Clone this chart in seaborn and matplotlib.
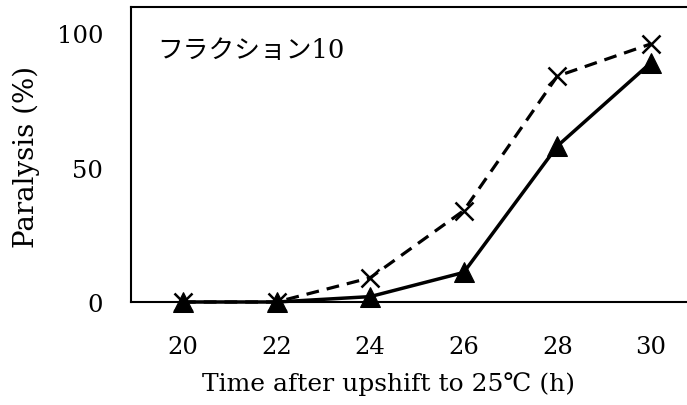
import matplotlib
matplotlib.use("Agg")
import matplotlib.pyplot as plt
import seaborn as sns
import pandas as pd

# Time after temperature upshift (h) and paralysis rate (%)
hours = [20, 22, 24, 26, 28, 30]
paralysis_triangle = [0, 0, 2, 11, 58, 89]
paralysis_cross = [0, 0, 9, 34, 84, 96]

y_ticks = [0, 50, 100]
panel_label = "フラクション10"
x_label = "Time after upshift to 25\u2103 (h)"
y_label = "Paralysis (%)"

sns.set_theme(style="white")
serif_fonts = ["DejaVu Serif", "Noto Sans CJK JP", "DejaVu Sans"]
plt.rcParams["font.family"] = serif_fonts

df_tri = pd.DataFrame({"hours": hours, "paralysis": paralysis_triangle})
df_x = pd.DataFrame({"hours": hours, "paralysis": paralysis_cross})

fig = plt.figure(figsize=(6.87, 4.06), dpi=100)
ax = fig.add_axes([131 / 687, 1 - 303 / 406, 1 - 131 / 687, (303 - 8) / 406])

sns.lineplot(data=df_x, x="hours", y="paralysis", ax=ax, color="black",
             linewidth=2.3, linestyle=(0, (4, 2.5)), marker="x",
             markersize=13, markeredgewidth=1.8, markeredgecolor="black",
             clip_on=False, zorder=3)
sns.lineplot(data=df_tri, x="hours", y="paralysis", ax=ax, color="black",
             linewidth=2.5, marker="^", markersize=14, markeredgecolor="black",
             markerfacecolor="black", clip_on=False, zorder=4)

ax.set_xlim(18.89, 30.77)
ax.set_ylim(0, 109.7)
ax.set_xticks(hours)
ax.set_yticks(y_ticks)
ax.tick_params(axis="both", direction="in", length=7, width=1.3,
               color="black", labelsize=17.5, labelcolor="black")
ax.tick_params(axis="y", pad=20)
ax.tick_params(axis="x", pad=24)

for side in ["left", "bottom", "top"]:
    ax.spines[side].set_visible(True)
    ax.spines[side].set_color("black")
    ax.spines[side].set_linewidth(1.5)
ax.spines["right"].set_visible(False)

ax.set_xlabel(x_label, fontsize=18, color="black")
ax.set_ylabel(y_label, fontsize=20, color="black")
ax.xaxis.set_label_coords(0.464, -0.235)
ax.yaxis.set_label_coords(-0.164, 0.495)

ax.text(0.047, 0.855, panel_label, transform=ax.transAxes, fontsize=18.5,
        color="black", ha="left", va="center", family=serif_fonts)

fig.savefig("out.png", dpi=100)
